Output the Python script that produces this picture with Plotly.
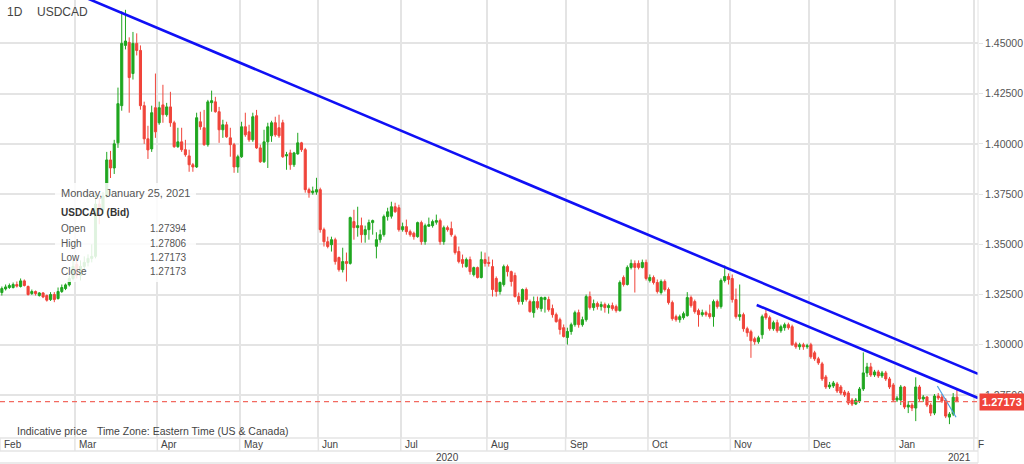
import pandas as pd
import plotly.graph_objects as go

# ---------------- data ----------------
SYMBOL = "USDCAD"
INTERVAL = "1D"
FIRST_DAY = "2020-02-03"          # first trading day shown (weekdays only)

OPEN = [
    # Feb 2020
    1.3260, 1.3278, 1.3285, 1.3285, 1.3300, 1.3290, 1.3318, 1.3290, 1.3255, 1.3265, 1.3245, 1.3258, 1.3245, 1.3225, 1.3250, 1.3230, 1.3265, 1.3280, 1.3298, 1.3330,
    # Mar
    1.3400, 1.3345, 1.3390, 1.3410, 1.3430, 1.3440, 1.3700, 1.3670, 1.3740, 1.3920, 1.3880, 1.4005, 1.4190, 1.4490, 1.4505, 1.4350, 1.4500, 1.4465, 1.4190, 1.4025, 1.3975, 1.4180,
    # Apr
    1.4105, 1.4194, 1.4145, 1.4184, 1.4105, 1.3986, 1.4010, 1.3971, 1.3940, 1.3896, 1.3885, 1.4110, 1.4080, 1.3996, 1.4205, 1.4209, 1.4160, 1.4070, 1.4095, 1.4030, 1.3996, 1.3885,
    # May
    1.3936, 1.4085, 1.4060, 1.4020, 1.4140, 1.3980, 1.3911, 1.4010, 1.4040, 1.4105, 1.4080, 1.4105, 1.3940, 1.3955, 1.3896, 1.3950, 1.4005, 1.3971, 1.3772, 1.3757, 1.3760,
    # Jun
    1.3772, 1.3573, 1.3513, 1.3498, 1.3523, 1.3434, 1.3374, 1.3414, 1.3405, 1.3613, 1.3583, 1.3593, 1.3548, 1.3573, 1.3608, 1.3490, 1.3523, 1.3548, 1.3638, 1.3640, 1.3687, 1.3682,
    # Jul
    1.3573, 1.3588, 1.3563, 1.3555, 1.3538, 1.3608, 1.3513, 1.3590, 1.3593, 1.3610, 1.3618, 1.3513, 1.3583, 1.3578, 1.3538, 1.3464, 1.3424, 1.3389, 1.3424, 1.3349, 1.3384, 1.3335, 1.3424,
    # Aug
    1.3410, 1.3389, 1.3330, 1.3265, 1.3300, 1.3389, 1.3364, 1.3345, 1.3240, 1.3215, 1.3275, 1.3215, 1.3160, 1.3215, 1.3180, 1.3225, 1.3225, 1.3180, 1.3150, 1.3125, 1.3085,
    # Sep
    1.3036, 1.3066, 1.3100, 1.3160, 1.3100, 1.3125, 1.3240, 1.3185, 1.3205, 1.3190, 1.3200, 1.3185, 1.3195, 1.3190, 1.3170, 1.3335, 1.3300, 1.3385, 1.3405, 1.3405, 1.3385, 1.3410,
    # Oct
    1.3320, 1.3335, 1.3310, 1.3260, 1.3315, 1.3275, 1.3210, 1.3140, 1.3125, 1.3135, 1.3145, 1.3235, 1.3215, 1.3170, 1.3150, 1.3160, 1.3155, 1.3140, 1.3215, 1.3190, 1.3320, 1.3340,
    # Nov
    1.3330, 1.3225, 1.3140, 1.3150, 1.3080, 1.3065, 1.3030, 1.3015, 1.3050, 1.3155, 1.3135, 1.3080, 1.3110, 1.3070, 1.3085, 1.3100, 1.3090, 1.3005, 1.2990, 1.3000, 1.2990,
    # Dec
    1.3000, 1.2960, 1.2930, 1.2905, 1.2840, 1.2790, 1.2795, 1.2805, 1.2790, 1.2765, 1.2760, 1.2725, 1.2705, 1.2720, 1.2780, 1.2860, 1.2890, 1.2850, 1.2865, 1.2845, 1.2860, 1.2830, 1.2800,
    # Jan 2021
    1.2725, 1.2725, 1.2790, 1.2690, 1.2700, 1.2685, 1.2790, 1.2730, 1.2740, 1.2700, 1.2660, 1.2745, 1.2740, 1.2725, 1.2640, 1.2655, 1.27394,
]

HIGH = [
    1.3290, 1.3300, 1.3305, 1.3310, 1.3315, 1.3330, 1.3325, 1.3295, 1.3275, 1.3270, 1.3262, 1.3262, 1.3250, 1.3262, 1.3262, 1.3285, 1.3300, 1.3305, 1.3345, 1.3420,
    1.3430, 1.3420, 1.3440, 1.3450, 1.3500, 1.3750, 1.3730, 1.3760, 1.3960, 1.3965, 1.4020, 1.4280, 1.4660, 1.4667, 1.4530, 1.4557, 1.4550, 1.4490, 1.4210, 1.4090, 1.4190, 1.4350,
    1.4210, 1.4294, 1.4204, 1.4259, 1.4115, 1.4080, 1.4080, 1.4020, 1.3971, 1.3905, 1.4155, 1.4160, 1.4169, 1.4219, 1.4265, 1.4234, 1.4184, 1.4120, 1.4110, 1.4080, 1.4005, 1.3946,
    1.4110, 1.4155, 1.4095, 1.4155, 1.4169, 1.3996, 1.4070, 1.4105, 1.4115, 1.4135, 1.4145, 1.4120, 1.3960, 1.3971, 1.3960, 1.4055, 1.4010, 1.3980, 1.3782, 1.3787, 1.3831,
    1.3782, 1.3583, 1.3538, 1.3538, 1.3533, 1.3439, 1.3483, 1.3459, 1.3638, 1.3672, 1.3687, 1.3633, 1.3593, 1.3623, 1.3623, 1.3560, 1.3573, 1.3648, 1.3682, 1.3712, 1.3707, 1.3697,
    1.3608, 1.3623, 1.3573, 1.3563, 1.3613, 1.3618, 1.3603, 1.3633, 1.3623, 1.3648, 1.3628, 1.3593, 1.3593, 1.3613, 1.3548, 1.3489, 1.3449, 1.3434, 1.3439, 1.3389, 1.3389, 1.3464, 1.3459,
    1.3439, 1.3424, 1.3340, 1.3315, 1.3399, 1.3399, 1.3369, 1.3359, 1.3260, 1.3280, 1.3285, 1.3225, 1.3240, 1.3240, 1.3240, 1.3240, 1.3240, 1.3200, 1.3160, 1.3135, 1.3101,
    1.3085, 1.3110, 1.3170, 1.3175, 1.3140, 1.3250, 1.3265, 1.3225, 1.3215, 1.3215, 1.3210, 1.3205, 1.3210, 1.3200, 1.3320, 1.3345, 1.3395, 1.3424, 1.3420, 1.3420, 1.3424, 1.3424,
    1.3350, 1.3345, 1.3325, 1.3325, 1.3325, 1.3285, 1.3220, 1.3150, 1.3150, 1.3165, 1.3262, 1.3245, 1.3225, 1.3180, 1.3175, 1.3170, 1.3200, 1.3225, 1.3225, 1.3330, 1.3395, 1.3355,
    1.3350, 1.3280, 1.3300, 1.3160, 1.3090, 1.3075, 1.3040, 1.3045, 1.3150, 1.3175, 1.3145, 1.3120, 1.3125, 1.3100, 1.3110, 1.3110, 1.3100, 1.3015, 1.3010, 1.3010, 1.3005,
    1.3010, 1.2970, 1.2940, 1.2915, 1.2850, 1.2815, 1.2820, 1.2815, 1.2800, 1.2775, 1.2770, 1.2735, 1.2735, 1.2790, 1.2962, 1.2910, 1.2910, 1.2875, 1.2875, 1.2870, 1.2870, 1.2840, 1.2810,
    1.2745, 1.2800, 1.2795, 1.2720, 1.2710, 1.2838, 1.2800, 1.2750, 1.2745, 1.2710, 1.2755, 1.2760, 1.2755, 1.2735, 1.2665, 1.2760, 1.27806,
]

LOW = [
    1.3245, 1.3270, 1.3278, 1.3280, 1.3285, 1.3285, 1.3290, 1.3245, 1.3248, 1.3245, 1.3240, 1.3232, 1.3215, 1.3218, 1.3212, 1.3225, 1.3258, 1.3272, 1.3290, 1.3320,
    1.3330, 1.3320, 1.3370, 1.3390, 1.3410, 1.3430, 1.3600, 1.3650, 1.3730, 1.3830, 1.3850, 1.3980, 1.4165, 1.4470, 1.4155, 1.4320, 1.4440, 1.4170, 1.4000, 1.3925, 1.3960, 1.4030,
    1.4095, 1.4105, 1.4135, 1.4085, 1.3980, 1.3980, 1.3960, 1.3936, 1.3861, 1.3861, 1.3880, 1.4070, 1.3990, 1.3986, 1.4160, 1.4155, 1.4005, 1.4030, 1.4030, 1.3936, 1.3856, 1.3856,
    1.3930, 1.4035, 1.4010, 1.4010, 1.3975, 1.3905, 1.3905, 1.3880, 1.4010, 1.4035, 1.4030, 1.3930, 1.3871, 1.3871, 1.3885, 1.3946, 1.3960, 1.3757, 1.3732, 1.3747, 1.3747,
    1.3558, 1.3489, 1.3480, 1.3464, 1.3399, 1.3364, 1.3360, 1.3315, 1.3399, 1.3523, 1.3538, 1.3508, 1.3508, 1.3523, 1.3548, 1.3430, 1.3508, 1.3538, 1.3618, 1.3628, 1.3657, 1.3563,
    1.3563, 1.3548, 1.3538, 1.3523, 1.3533, 1.3498, 1.3498, 1.3588, 1.3583, 1.3598, 1.3498, 1.3498, 1.3563, 1.3538, 1.3449, 1.3405, 1.3384, 1.3384, 1.3349, 1.3340, 1.3330, 1.3330, 1.3389,
    1.3389, 1.3240, 1.3240, 1.3250, 1.3290, 1.3340, 1.3290, 1.3235, 1.3200, 1.3200, 1.3215, 1.3160, 1.3135, 1.3175, 1.3165, 1.3160, 1.3165, 1.3135, 1.3110, 1.3051, 1.3036,
    1.3001, 1.3050, 1.3090, 1.3085, 1.3090, 1.3115, 1.3175, 1.3170, 1.3175, 1.3170, 1.3160, 1.3155, 1.3170, 1.3160, 1.3165, 1.3290, 1.3295, 1.3375, 1.3260, 1.3375, 1.3380, 1.3320,
    1.3310, 1.3300, 1.3255, 1.3250, 1.3265, 1.3200, 1.3120, 1.3115, 1.3110, 1.3125, 1.3140, 1.3185, 1.3155, 1.3090, 1.3140, 1.3140, 1.3130, 1.3090, 1.3180, 1.3180, 1.3310, 1.3300,
    1.3210, 1.3130, 1.3120, 1.3065, 1.3040, 1.2935, 1.3000, 1.3005, 1.3030, 1.3125, 1.3070, 1.3070, 1.3060, 1.3060, 1.3070, 1.3075, 1.2995, 1.2980, 1.2975, 1.2975, 1.2980,
    1.2930, 1.2920, 1.2900, 1.2820, 1.2780, 1.2780, 1.2785, 1.2760, 1.2750, 1.2740, 1.2700, 1.2695, 1.2700, 1.2710, 1.2770, 1.2840, 1.2840, 1.2840, 1.2835, 1.2835, 1.2820, 1.2780, 1.2715,
    1.2715, 1.2700, 1.2680, 1.2660, 1.2670, 1.2620, 1.2720, 1.2715, 1.2690, 1.2645, 1.2650, 1.2725, 1.2710, 1.2635, 1.2605, 1.2645, 1.27173,
]

CLOSE = [
    1.3280, 1.3288, 1.3295, 1.3300, 1.3292, 1.3318, 1.3295, 1.3250, 1.3265, 1.3255, 1.3258, 1.3238, 1.3222, 1.3250, 1.3225, 1.3265, 1.3285, 1.3298, 1.3330, 1.3390,
    1.3345, 1.3390, 1.3410, 1.3430, 1.3440, 1.3700, 1.3670, 1.3740, 1.3920, 1.3880, 1.4000, 1.4200, 1.4500, 1.4512, 1.4330, 1.4500, 1.4465, 1.4190, 1.4025, 1.3970, 1.4155, 1.4060,
    1.4180, 1.4145, 1.4184, 1.4105, 1.3986, 1.4010, 1.3971, 1.3946, 1.3896, 1.3885, 1.4130, 1.4085, 1.3996, 1.4209, 1.4215, 1.4160, 1.4070, 1.4095, 1.4035, 1.3996, 1.3885, 1.3936,
    1.4085, 1.4045, 1.4020, 1.4135, 1.3980, 1.3911, 1.4010, 1.4085, 1.4105, 1.4045, 1.4040, 1.3936, 1.3946, 1.3896, 1.3955, 1.4005, 1.3971, 1.3772, 1.3757, 1.3765, 1.3772,
    1.3573, 1.3513, 1.3489, 1.3523, 1.3414, 1.3374, 1.3414, 1.3405, 1.3633, 1.3583, 1.3593, 1.3548, 1.3573, 1.3608, 1.3618, 1.3523, 1.3548, 1.3638, 1.3662, 1.3687, 1.3662, 1.3573,
    1.3588, 1.3563, 1.3548, 1.3538, 1.3608, 1.3513, 1.3593, 1.3598, 1.3613, 1.3618, 1.3513, 1.3583, 1.3573, 1.3548, 1.3459, 1.3414, 1.3405, 1.3424, 1.3364, 1.3384, 1.3335, 1.3424, 1.3405,
    1.3405, 1.3275, 1.3265, 1.3310, 1.3389, 1.3364, 1.3315, 1.3240, 1.3215, 1.3275, 1.3225, 1.3165, 1.3215, 1.3185, 1.3235, 1.3235, 1.3175, 1.3150, 1.3115, 1.3076, 1.3041,
    1.3066, 1.3100, 1.3160, 1.3100, 1.3125, 1.3240, 1.3185, 1.3205, 1.3190, 1.3200, 1.3185, 1.3195, 1.3180, 1.3170, 1.3310, 1.3300, 1.3385, 1.3405, 1.3385, 1.3385, 1.3410, 1.3330,
    1.3335, 1.3310, 1.3265, 1.3315, 1.3275, 1.3210, 1.3130, 1.3125, 1.3140, 1.3155, 1.3235, 1.3195, 1.3165, 1.3150, 1.3160, 1.3150, 1.3140, 1.3215, 1.3190, 1.3320, 1.3340, 1.3325,
    1.3225, 1.3140, 1.3150, 1.3080, 1.3060, 1.3020, 1.3015, 1.3035, 1.3140, 1.3135, 1.3080, 1.3110, 1.3070, 1.3090, 1.3100, 1.3085, 1.3000, 1.2990, 1.3000, 1.2990, 1.2995,
    1.2940, 1.2930, 1.2910, 1.2830, 1.2790, 1.2800, 1.2810, 1.2770, 1.2760, 1.2750, 1.2710, 1.2705, 1.2725, 1.2780, 1.2860, 1.2890, 1.2850, 1.2865, 1.2845, 1.2860, 1.2830, 1.2790, 1.2725,
    1.2735, 1.2790, 1.2690, 1.2700, 1.2685, 1.2790, 1.2730, 1.2740, 1.2700, 1.2660, 1.2745, 1.2735, 1.2720, 1.2645, 1.2655, 1.2739, 1.27173,
]

MONTH_STARTS = ["2020-02-01", "2020-03-01", "2020-04-01", "2020-05-01", "2020-06-01", "2020-07-01",
                "2020-08-01", "2020-09-01", "2020-10-01", "2020-11-01", "2020-12-01", "2021-01-01", "2021-02-01"]
MONTH_LABELS = ["Feb", "Mar", "Apr", "May", "Jun", "Jul", "Aug", "Sep", "Oct", "Nov", "Dec", "Jan", "F"]
YEAR_LABELS = ["2020", "2021"]
YEAR_START_2021 = "2021-01-01"

LAST_PRICE = 1.27173
LAST_PRICE_TEXT = "1.27173"

TOOLTIP_DATE = "Monday, January 25, 2021"
TOOLTIP_TITLE = "USDCAD (Bid)"
TOOLTIP_FIELDS = ["Open", "High", "Low", "Close"]
TOOLTIP_VALUES = ["1.27394", "1.27806", "1.27173", "1.27173"]

FOOTER_LEFT = "Indicative price"
FOOTER_TZ = "Time Zone: Eastern Time (US & Canada)"

# trend lines drawn on the chart (anchor points in date / price)
TREND_UPPER_X = ["2020-03-02 12:00", "2021-02-02 03:00"]
TREND_UPPER_Y = [1.4746, 1.2855]
TREND_LOWER_X = ["2020-11-11 01:00", "2021-02-02 03:00"]
TREND_LOWER_Y = [1.3198, 1.2735]
TREND_SHORT_X = ["2021-01-18 06:40", "2021-01-25 06:30"]
TREND_SHORT_Y = [1.2795, 1.2639]

X_RANGE = ["2020-02-03 00:00", "2021-02-02 03:00"]
Y_RANGE = [1.2536, 1.4716]

# ---------------- styling ----------------
GREEN = "#1fa61f"
RED = "#f0443a"
DASH_RED = "#f26a60"
BLUE = "#1010f5"
LIGHT_BLUE = "#4a9fe2"
GRID = "#e4e4e4"
TXT = "#555555"
FONT = "Liberation Sans, Arial, Helvetica, sans-serif"

W, H = 1024, 464
ML, MR, MT, MB = 0, 46, 0, 26
PW, PH = W - ML - MR, H - MT - MB


def px(x):
    return x / PW


def py(y):
    return (PH - y) / PH


assert len(OPEN) == len(HIGH) == len(LOW) == len(CLOSE)

dates = pd.bdate_range(FIRST_DAY, periods=len(CLOSE)) + pd.Timedelta(hours=12)


def month_pos(d):
    t = pd.Timestamp(d)
    while t.weekday() >= 5:
        t += pd.Timedelta(days=1)
    return t


month_ticks = [month_pos(d) for d in MONTH_STARTS]

fig = go.Figure()
fig.add_trace(go.Candlestick(
    x=dates, open=OPEN, high=HIGH, low=LOW, close=CLOSE,
    increasing=dict(line=dict(color=GREEN, width=1), fillcolor=GREEN),
    decreasing=dict(line=dict(color=RED, width=1), fillcolor=RED),
    whiskerwidth=0, hoverinfo="skip", showlegend=False,
))
fig.add_trace(go.Scatter(x=TREND_UPPER_X, y=TREND_UPPER_Y, mode="lines",
                         line=dict(color=BLUE, width=2.6), hoverinfo="skip", showlegend=False))
fig.add_trace(go.Scatter(x=TREND_LOWER_X, y=TREND_LOWER_Y, mode="lines",
                         line=dict(color=BLUE, width=2.6), hoverinfo="skip", showlegend=False))
fig.add_trace(go.Scatter(x=TREND_SHORT_X, y=TREND_SHORT_Y, mode="lines",
                         line=dict(color=LIGHT_BLUE, width=1.2), hoverinfo="skip", showlegend=False))

shapes = []
# last price dashed line
shapes.append(dict(type="line", xref="paper", yref="y", x0=0, x1=1, y0=LAST_PRICE, y1=LAST_PRICE,
                   line=dict(color=DASH_RED, width=1.2, dash="5px,4px"), layer="above"))
# tooltip panel
shapes.append(dict(type="rect", xref="paper", yref="paper", x0=px(55), x1=px(196), y0=py(282), y1=py(183),
                   fillcolor="rgba(255,255,255,0.86)", line=dict(width=0), layer="above"))
# plot right border
shapes.append(dict(type="line", xref="paper", yref="paper", x0=1, x1=1, y0=py(463), y1=1,
                   line=dict(color=GRID, width=1)))
# date rows
for yy in (438, 451, 463):
    shapes.append(dict(type="line", xref="paper", yref="paper", x0=0, x1=1, y0=py(yy), y1=py(yy),
                       line=dict(color=GRID, width=1.5)))
for t in month_ticks:
    shapes.append(dict(type="line", xref="x", yref="paper", x0=t, x1=t, y0=py(451), y1=0,
                       line=dict(color=GRID, width=1.5)))
shapes.append(dict(type="line", xref="x", yref="paper", x0=YEAR_START_2021, x1=YEAR_START_2021,
                   y0=py(463), y1=py(451), line=dict(color=GRID, width=1.5)))

ann = []
# title
ann.append(dict(xref="paper", yref="paper", x=px(5), y=py(12), xanchor="left", yanchor="middle",
                text=INTERVAL, showarrow=False, font=dict(size=12, color="#444444")))
ann.append(dict(xref="paper", yref="paper", x=px(35), y=py(12), xanchor="left", yanchor="middle",
                text=SYMBOL, showarrow=False, font=dict(size=12, color="#444444")))
# tooltip text
ann.append(dict(xref="paper", yref="paper", x=px(59), y=py(193), xanchor="left", yanchor="middle",
                text=TOOLTIP_DATE, showarrow=False, font=dict(size=11, color=TXT)))
ann.append(dict(xref="paper", yref="paper", x=px(59), y=py(213), xanchor="left", yanchor="middle",
                text="<b>" + TOOLTIP_TITLE + "</b>", showarrow=False, font=dict(size=10, color="#333333")))
for k, (f, v) in enumerate(zip(TOOLTIP_FIELDS, TOOLTIP_VALUES)):
    yy = 229 + k * 14.2
    ann.append(dict(xref="paper", yref="paper", x=px(59), y=py(yy), xanchor="left", yanchor="middle",
                    text=f, showarrow=False, font=dict(size=10, color=TXT)))
    ann.append(dict(xref="paper", yref="paper", x=px(189), y=py(yy), xanchor="right", yanchor="middle",
                    text=v, showarrow=False, font=dict(size=10, color=TXT)))
# footer
ann.append(dict(xref="paper", yref="paper", x=px(15), y=py(431), xanchor="left", yanchor="middle",
                text=FOOTER_LEFT, showarrow=False, font=dict(size=10.5, color="#444444")))
ann.append(dict(xref="paper", yref="paper", x=px(95), y=py(431), xanchor="left", yanchor="middle",
                text=FOOTER_TZ, showarrow=False, font=dict(size=10.5, color="#444444")))
# month labels
for t, lab in zip(month_ticks, MONTH_LABELS):
    ann.append(dict(xref="x", yref="paper", x=t, y=py(444.5), xanchor="left", yanchor="middle", xshift=2,
                    text=lab, showarrow=False, font=dict(size=10, color="#444444")))
# year labels
ann.append(dict(xref="paper", yref="paper", x=px(447), y=py(457), xanchor="center", yanchor="middle",
                text=YEAR_LABELS[0], showarrow=False, font=dict(size=10, color="#444444")))
ann.append(dict(xref="paper", yref="paper", x=px(959), y=py(457), xanchor="center", yanchor="middle",
                text=YEAR_LABELS[1], showarrow=False, font=dict(size=10, color="#444444")))
# last price label
ann.append(dict(xref="paper", yref="y", x=1, y=LAST_PRICE, xanchor="left", yanchor="middle", xshift=1,
                text="<b>" + LAST_PRICE_TEXT + "</b>", showarrow=False, bgcolor=RED, borderpad=2,
                font=dict(size=11, color="white")))

fig.update_layout(
    width=W, height=H, margin=dict(l=ML, r=MR, t=MT, b=MB),
    paper_bgcolor="white", plot_bgcolor="white", showlegend=False,
    font=dict(family=FONT, size=10.5, color=TXT),
    shapes=shapes, annotations=ann, hovermode=False, boxgap=0.2,
)
fig.update_xaxes(
    type="date", range=X_RANGE, rangebreaks=[dict(bounds=["sat", "mon"])],
    rangeslider=dict(visible=False), tickmode="array", tickvals=month_ticks,
    showticklabels=False, ticks="", showgrid=True, gridcolor=GRID, gridwidth=1.5,
    zeroline=False, showline=False, fixedrange=True,
)
fig.update_yaxes(
    side="right", range=Y_RANGE, tick0=1.25, dtick=0.025, tickformat=".5f",
    showgrid=True, gridcolor=GRID, gridwidth=1.5, ticks="outside", ticklen=4, tickcolor=GRID,
    tickfont=dict(size=10.5, color=TXT), zeroline=False, showline=False, fixedrange=True,
)

fig.write_html(
    "out.html",
    config={"displayModeBar": False},
    post_script="document.body.style.margin='0px';document.body.style.overflow='hidden';",
)
